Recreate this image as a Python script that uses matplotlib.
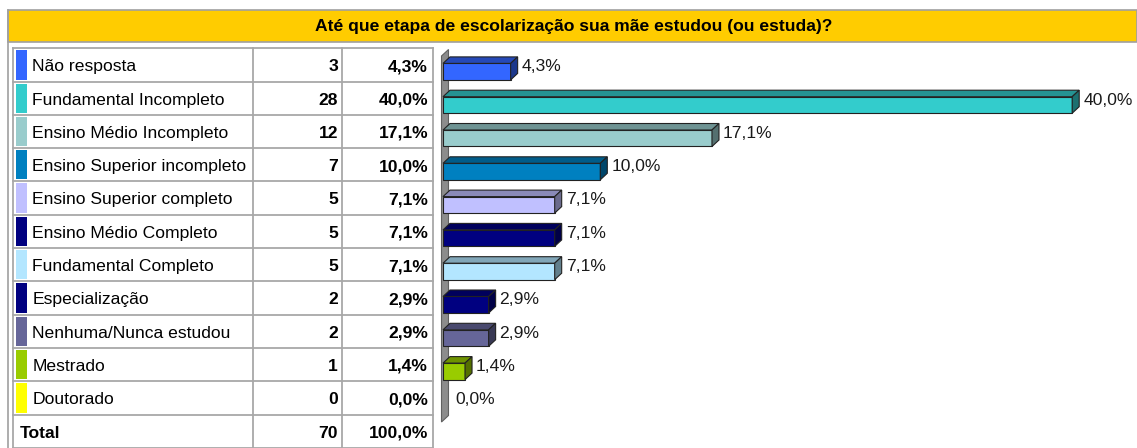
import numpy as np
import matplotlib.pyplot as plt
from matplotlib.patches import Polygon, Rectangle
from matplotlib.colors import to_rgb

plt.rcParams['font.family'] = ['Liberation Sans', 'DejaVu Sans']

# data
title = "Até que etapa de escolarização sua mãe estudou (ou estuda)?"
categories = ["Não resposta", "Fundamental Incompleto", "Ensino Médio Incompleto",
              "Ensino Superior incompleto", "Ensino Superior completo",
              "Ensino Médio Completo", "Fundamental Completo", "Especialização",
              "Nenhuma/Nunca estudou", "Mestrado", "Doutorado"]
counts = [3, 28, 12, 7, 5, 5, 5, 2, 2, 1, 0]
percents = [4.3, 40.0, 17.1, 10.0, 7.1, 7.1, 7.1, 2.9, 2.9, 1.4, 0.0]
total_count = 70
total_percent = 100.0
colors = ['#3366FF', '#33CCCC', '#99CCCC', '#0080C0', '#C0C0FF', '#000080',
          '#B3E6FF', '#000080', '#666699', '#99CC00', '#FFFF00']

W, H = 1137, 448
FS = 12.6
GRID = '#A8A8A8'


def fmt(v):
    return f"{v:.1f}".replace('.', ',') + '%'


def shade(c, f):
    return tuple(v * f for v in to_rgb(c))


fig = plt.figure(figsize=(W / 100, H / 100), dpi=100)
bg = fig.add_axes([0, 0, 1, 1])
bg.set_xlim(0, W)
bg.set_ylim(H, 0)
bg.axis('off')

# header
bg.add_patch(Rectangle((8, 10.5), W - 8, 31.5, facecolor='#FFCC00', edgecolor='#A0A0A0', lw=1.2))
bg.plot([8, 8], [10, H], color='#A0A0A0', lw=1.2)
bg.text(574, 27, title, ha='center', va='center', fontsize=FS, fontweight='bold')

# table
row_top = 48.3
row_h = 33.3
n = len(categories)
cols = [13.3, 253.3, 342.3, 433.3]
for xc in cols:
    bg.plot([xc, xc], [row_top, H + 2], color=GRID, lw=1.3)
for k in range(n + 2):
    yy = row_top + k * row_h
    bg.plot([cols[0], cols[-1]], [yy, yy], color=GRID, lw=1.3)

cap = 0.716 * FS * 100 / 72 / 2
for i, (cat, cnt, p, c) in enumerate(zip(categories, counts, percents, colors)):
    yt = row_top + i * row_h
    yc = yt + row_h / 2
    bg.add_patch(Rectangle((16, yt + 2), 11, row_h - 4, facecolor=c, edgecolor='none'))
    bg.text(32.3, yc + cap, cat, ha='left', va='baseline', fontsize=FS)
    bg.text(338, yc + cap, str(cnt), ha='right', va='baseline', fontsize=FS, fontweight='bold')
    bg.text(428, yc + cap, fmt(p), ha='right', va='baseline', fontsize=FS, fontweight='bold')

yc = row_top + n * row_h + row_h / 2
bg.text(20, yc + cap, "Total", ha='left', va='baseline', fontsize=FS, fontweight='bold')
bg.text(338, yc + cap, str(total_count), ha='right', va='baseline', fontsize=FS, fontweight='bold')
bg.text(428, yc + cap, fmt(total_percent), ha='right', va='baseline', fontsize=FS, fontweight='bold')

# 3D bars
x0 = 443
px_per_pct = 15.73
ax = fig.add_axes([x0 / W, 1 - (row_top + n * row_h) / H, (W - x0) / W, n * row_h / H])
ax.set_xlim(0, (W - x0) / px_per_pct)
ax.set_ylim(n - 0.5, -0.5)
ax.axis('off')

dx = 7 / px_per_pct
dy = 6.5 / row_h
off = 6.7 / row_h
bh = 16.5 / row_h

# side wall
w_top = (56 - row_top) / row_h - 0.5
w_bot = (422 - row_top) / row_h - 0.5
wx = -1.5 / px_per_pct
ax.add_patch(Polygon([(wx, w_top), (wx + dx, w_top - dy), (wx + dx, w_bot - dy), (wx, w_bot)],
                     closed=True, facecolor='#8C8C8C', edgecolor='#606060', lw=0.8,
                     clip_on=False, zorder=1))

ypos = np.arange(n) + off
for i, (p, c) in enumerate(zip(percents, colors)):
    yb = ypos[i] - bh / 2
    if p > 0:
        ax.barh(ypos[i], p, height=bh, left=0, color=c, edgecolor='#222222', lw=0.8, zorder=3)
        ax.add_patch(Polygon([(0, yb), (dx, yb - dy), (p + dx, yb - dy), (p, yb)],
                             closed=True, facecolor=shade(c, 0.72), edgecolor='#222222',
                             lw=0.8, zorder=3, clip_on=False))
        ax.add_patch(Polygon([(p, yb), (p + dx, yb - dy), (p + dx, yb + bh - dy), (p, yb + bh)],
                             closed=True, facecolor=shade(c, 0.55), edgecolor='#222222',
                             lw=0.8, zorder=3, clip_on=False))
        lx = p + dx + 4 / px_per_pct
    else:
        lx = dx + 5 / px_per_pct
    ax.text(lx, i + cap / row_h, fmt(p), ha='left', va='baseline', fontsize=FS,
            color='#1a1a1a', zorder=4)

fig.savefig('out.png', dpi=100, facecolor='white')
